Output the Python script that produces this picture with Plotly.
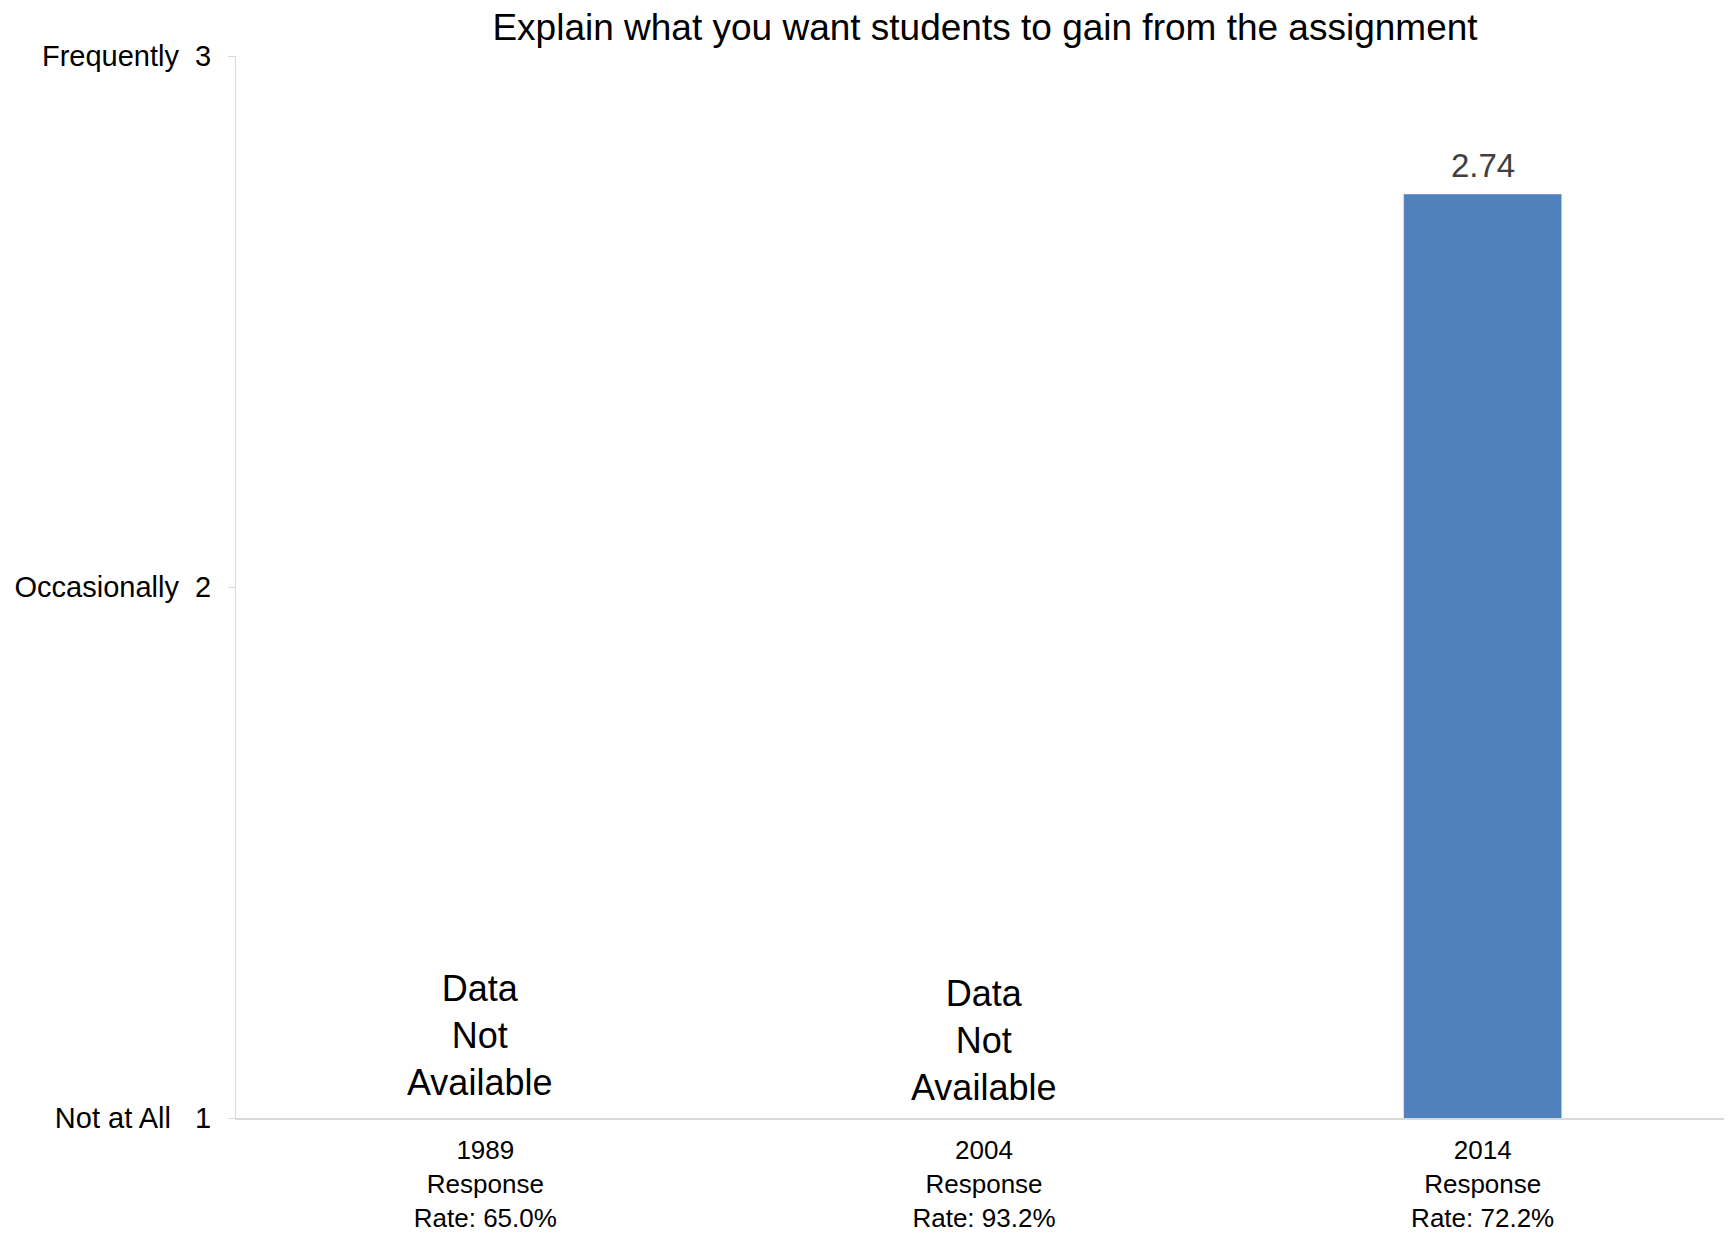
import plotly.graph_objects as go

years = ["1989", "2004", "2014"]
response_rates = ["65.0%", "93.2%", "72.2%"]
values = [None, None, 2.74]
y_tick_vals = [1, 2, 3]
y_tick_names = ["Not at All", "Occasionally", "Frequently"]
missing_label = "Data<br>Not<br>Available"
title = "Explain what you want students to gain from the assignment"

categories = [f"{y}<br>Response<br>Rate: {r}" for y, r in zip(years, response_rates)]
NB = "\u00a0"
gaps = [3, 2, 2]
y_tick_text = [f"{n}{NB*g}{v}" for n, v, g in zip(y_tick_names, y_tick_vals, gaps)]

FONT = "Liberation Sans, Arial"
W, H = 1724, 1233

fig = go.Figure()
fig.add_trace(go.Bar(
    x=categories, y=values, marker_color="#4F81BD", width=0.317,
    hoverinfo="skip",
))

annotations = []
missing_shifts = [(-6, 13), (-1, 8)]
mi = 0
for c, v in zip(categories, values):
    if v is None:
        xs, ys = missing_shifts[mi]
        mi += 1
        annotations.append(dict(
            x=c, y=1, xref="x", yref="y", text=missing_label, showarrow=False,
            yanchor="bottom", yshift=ys, xshift=xs,
            font=dict(family=FONT, size=36, color="#000000"),
        ))
    else:
        annotations.append(dict(
            x=c, y=v, xref="x", yref="y", text=f"{v:.2f}", showarrow=False,
            yanchor="bottom", yshift=8,
            font=dict(family=FONT, size=33, color="#404040"),
        ))

fig.update_layout(
    width=W, height=H,
    margin=dict(l=228, r=0, t=48, b=123),
    paper_bgcolor="white", plot_bgcolor="white",
    showlegend=False,
    title=dict(text=title, x=(985 - 8) / W, xanchor="center", y=1 - 19 / H, yanchor="middle",
               yref="container",
               font=dict(family=FONT, size=37, color="#000000")),
    font=dict(family=FONT, color="#000000"),
    annotations=annotations,
    bargap=0.683,
)
fig.update_xaxes(
    showline=True, linecolor="#D9D9D9", linewidth=2, ticks="",
    tickfont=dict(size=26, color="#000000"), showgrid=False,
    ticklabelstandoff=8, automargin=False,
)
fig.update_yaxes(
    range=[1, 3], tickvals=y_tick_vals, ticktext=y_tick_text,
    showline=True, linecolor="#D9D9D9", linewidth=1, ticks="outside",
    ticklen=7, tickcolor="#D9D9D9", showgrid=False, zeroline=False,
    tickfont=dict(size=29, color="#000000"),
    ticklabelstandoff=11, automargin=False,
)

fig.write_html("out.html")
